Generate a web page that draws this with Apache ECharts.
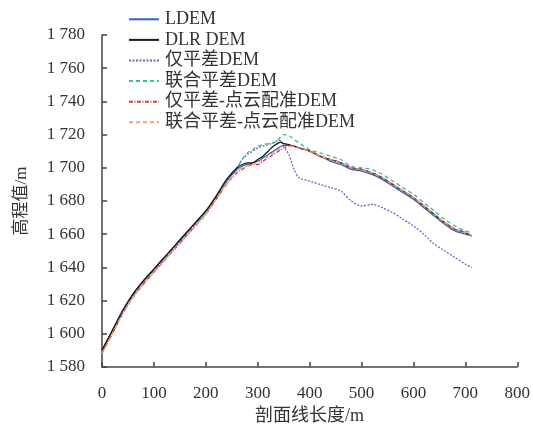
<!DOCTYPE html>
<html><head><meta charset="utf-8">
<script src="https://cdn.jsdelivr.net/npm/echarts@6/dist/echarts.min.js"></script>
<style>html,body{margin:0;padding:0;background:#fff}#c{width:533px;height:432px}</style>
</head><body><div id="c"></div>
<script>
const seriesNames = ['LDEM', 'DLR DEM', '仅平差DEM', '联合平差DEM', '仅平差-点云配准DEM', '联合平差-点云配准DEM'];
const xTicks = [0, 100, 200, 300, 400, 500, 600, 700, 800];
const yTicks = [1580, 1600, 1620, 1640, 1660, 1680, 1700, 1720, 1740, 1760, 1780];

const xDist = [0, 20, 40, 60, 80, 100, 120, 140, 160, 180, 200, 220, 240, 260, 270, 280, 290, 300, 310, 320, 330, 340, 345, 350, 360, 370, 380, 400, 420, 440, 460, 480, 500, 520, 540, 560, 580, 600, 620, 640, 660, 680, 700, 712];
const ldem = [1590, 1602, 1614, 1624, 1632, 1639, 1646, 1653, 1660, 1667, 1674, 1683, 1692, 1699, 1701, 1702, 1703, 1704, 1706, 1708, 1710, 1712, 1713, 1713.5, 1713.5, 1713, 1712, 1710, 1707, 1704, 1702, 1699, 1698, 1696, 1693, 1689, 1685, 1681, 1676, 1671, 1666, 1662, 1660, 1659];
const dlr = [1590, 1602, 1614, 1624, 1632, 1639, 1646, 1653, 1660, 1667, 1674, 1683, 1693, 1700, 1702, 1703, 1703, 1705, 1707, 1710, 1713, 1715, 1715.5, 1714.5, 1714, 1713, 1712, 1710, 1707, 1705, 1703, 1700, 1699, 1697, 1694, 1690, 1686, 1682, 1677, 1672, 1667, 1663, 1661, 1659];
const adjOnly = [1590, 1602, 1614, 1623, 1631, 1638, 1645, 1652, 1659, 1666, 1673, 1682, 1692, 1700, 1705, 1708, 1710, 1712, 1713, 1714, 1715, 1716.5, 1716, 1713, 1708, 1699, 1694, 1692, 1690, 1688, 1686, 1680, 1677, 1678, 1676, 1673, 1669, 1665, 1660, 1654, 1650, 1646, 1642, 1640];
const jointAdj = [1590, 1602, 1614, 1623, 1631, 1638, 1645, 1652, 1659, 1666, 1673, 1682, 1692, 1700, 1705, 1709, 1711, 1713, 1714, 1714.5, 1715, 1717, 1719, 1720, 1719.5, 1717, 1715, 1711, 1709, 1707, 1705, 1701, 1700, 1699, 1696, 1692, 1688, 1684, 1679, 1674, 1669, 1665, 1662, 1661];
const adjReg = [1588, 1600, 1612, 1622, 1630, 1637, 1644, 1651, 1658, 1665, 1672, 1681, 1690, 1697, 1699, 1701, 1702, 1702, 1704, 1706, 1708, 1710, 1711, 1712, 1713, 1713, 1712, 1710, 1707, 1705, 1703, 1700, 1699, 1697, 1694, 1690, 1686, 1682, 1677, 1672, 1667, 1663, 1661, 1659];
const jointReg = [1588, 1600, 1612, 1622, 1630, 1637, 1644, 1651, 1658, 1665, 1672, 1681, 1690, 1698, 1700, 1701, 1702, 1703, 1705, 1707, 1709, 1711, 1711.5, 1712, 1713, 1713, 1712, 1710, 1707, 1705, 1703, 1700, 1699, 1697, 1694, 1690, 1686, 1682, 1677, 1672, 1667, 1663, 1661, 1659];

const seriesValues = [ldem, dlr, adjOnly, jointAdj, adjReg, jointReg];
const colors = ['#2f62c8', '#1a1a1a', '#6a66c6', '#35c28c', '#d8383a', '#f4a070'];
const lineTypes = ['solid', 'solid', [2, 1.5], [4, 3], [4, 1.5, 1, 1.5], [4, 3]];

const FONT = "'Liberation Serif', 'Noto Sans CJK SC', serif";
const chart = echarts.init(document.getElementById('c'));
chart.setOption({
  animation: false,
  color: colors,
  grid: { left: 102, right: 15, top: 35, bottom: 65 },
  legend: {
    orient: 'vertical', left: 123, top: 4,
    itemWidth: 30, itemHeight: 10, itemGap: 0,
    itemStyle: { opacity: 0 },
    textStyle: { fontFamily: FONT, fontSize: 18, color: '#333', lineHeight: 20.6, padding: [0, 0, 0, 1] },
    data: seriesNames
  },
  xAxis: {
    type: 'value', min: 0, max: 800, interval: 100,
    name: '剖面线长度/m', nameLocation: 'middle', nameGap: 38,
    nameTextStyle: { fontFamily: FONT, fontSize: 18, color: '#333' },
    axisLine: { lineStyle: { color: '#444', width: 1.5 } },
    axisTick: { inside: true, length: 5, lineStyle: { color: '#444', width: 1.5 } },
    axisLabel: { fontFamily: FONT, fontSize: 17, color: '#333', margin: 18 },
    splitLine: { show: false }
  },
  yAxis: {
    type: 'value', min: 1580, max: 1780, interval: 20,
    name: '高程值/m', nameLocation: 'middle', nameGap: 72, nameRotate: 90,
    nameTextStyle: { fontFamily: FONT, fontSize: 17, color: '#333' },
    axisLine: { show: true, lineStyle: { color: '#444', width: 1.5 } },
    axisTick: { show: true, inside: true, length: 5, lineStyle: { color: '#444', width: 1.5 } },
    axisLabel: { fontFamily: FONT, fontSize: 17, color: '#333', margin: 17,
      formatter: v => String(v).replace(/\B(?=(\d{3})+(?!\d))/g, ' ') },
    splitLine: { show: false }
  },
  series: seriesNames.map((n, i) => ({
    name: n, type: 'line', showSymbol: false, symbol: 'none', smooth: 0.3,
    data: xDist.map((x, j) => [x, seriesValues[i][j]]),
    lineStyle: { color: colors[i], width: 1.3, type: lineTypes[i] },
    itemStyle: { color: colors[i] },
    z: [3, 4, 2, 2, 5, 5][i]
  }))
});
</script></body></html>
